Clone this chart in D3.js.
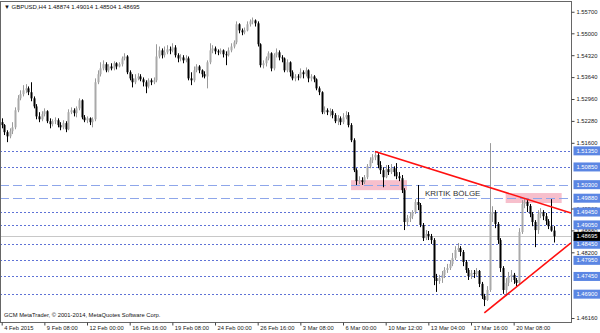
<!DOCTYPE html>
<html><head><meta charset="utf-8">
<script src="https://cdn.jsdelivr.net/npm/d3@7/dist/d3.min.js"></script>
<style>body{margin:0;background:#fff}svg{display:block}text{font-family:"Liberation Sans",Arial,sans-serif}</style>
</head><body><svg id="c" width="600" height="333"></svg>
<script>
const symbol = "GBPUSD,H4";
const lastOHLC = [1.48874, 1.49014, 1.48504, 1.48695];
const timeLabels = ["4 Feb 2015","9 Feb 08:00","12 Feb 00:00","16 Feb 16:00","19 Feb 08:00","24 Feb 00:00","26 Feb 16:00","3 Mar 08:00","6 Mar 00:00","10 Mar 12:00","13 Mar 04:00","17 Mar 16:00","20 Mar 08:00"];
const priceTicks = [1.4616,1.4820,1.4888,1.4956,1.5160,1.5228,1.5296,1.5364,1.5432,1.5500,1.5570];
const opens = [1.5224,
1.5215,1.5193,1.5180,1.5196,1.5208,1.5261,1.5298,1.5311,1.5323,1.5329,
1.5317,1.5298,1.5273,1.5242,1.5233,1.5249,1.5258,1.5227,1.5218,1.5227,
1.5230,1.5215,1.5208,1.5221,1.5202,1.5255,1.5261,1.5252,1.5267,1.5292,
1.5239,1.5230,1.5236,1.5224,1.5233,1.5348,1.5373,1.5391,1.5404,1.5385,
1.5397,1.5391,1.5407,1.5397,1.5404,1.5422,1.5428,1.5379,1.5360,1.5348,
1.5360,1.5366,1.5357,1.5348,1.5335,1.5354,1.5348,1.5354,1.5428,1.5447,
1.5432,1.5441,1.5450,1.5447,1.5456,1.5432,1.5422,1.5425,1.5416,1.5422,
1.5360,1.5354,1.5385,1.5397,1.5385,1.5373,1.5366,1.5410,1.5447,1.5453,
1.5444,1.5441,1.5447,1.5435,1.5432,1.5447,1.5459,1.5472,1.5528,1.5509,
1.5503,1.5509,1.5528,1.5537,1.5540,1.5531,1.5466,1.5401,1.5407,1.5422,
1.5438,1.5391,1.5432,1.5441,1.5425,1.5422,1.5385,1.5410,1.5379,1.5360,
1.5366,1.5363,1.5379,1.5373,1.5385,1.5360,1.5366,1.5357,1.5329,1.5317,
1.5255,1.5261,1.5255,1.5258,1.5246,1.5227,1.5236,1.5224,1.5239,1.5246,
1.5215,1.5168,1.5075,1.5041,1.5044,1.5038,1.5053,1.5087,1.5106,1.5115,
1.5122,1.5091,1.5075,1.5053,1.5078,1.5069,1.5081,1.5069,1.5056,1.5050,
1.5013,1.4914,1.4926,1.4932,1.4945,1.4976,1.4967,1.4905,1.4864,1.4877,
1.4870,1.4858,1.4740,1.4731,1.4740,1.4750,1.4765,1.4771,1.4784,1.4802,
1.4827,1.4833,1.4821,1.4790,1.4765,1.4746,1.4756,1.4753,1.4762,1.4722,
1.4684,1.4672,1.4703,1.4939,1.4945,1.4908,1.4858,1.4771,1.4703,1.4725,
1.4744,1.4750,1.4734,1.4725,1.4883,1.4970,1.4976,1.4964,1.4939,1.4914,
1.4889,1.4939,1.4945,1.4932,1.4917,1.4901,1.48874];
const closes = [
1.5215,1.5193,1.5180,1.5196,1.5208,1.5261,1.5298,1.5311,1.5323,1.5329,
1.5317,1.5298,1.5273,1.5242,1.5233,1.5249,1.5258,1.5227,1.5218,1.5227,
1.5230,1.5215,1.5208,1.5221,1.5202,1.5255,1.5261,1.5252,1.5267,1.5292,
1.5239,1.5230,1.5236,1.5224,1.5233,1.5348,1.5373,1.5391,1.5404,1.5385,
1.5397,1.5391,1.5407,1.5397,1.5404,1.5422,1.5428,1.5379,1.5360,1.5348,
1.5360,1.5366,1.5357,1.5348,1.5335,1.5354,1.5348,1.5354,1.5428,1.5447,
1.5432,1.5441,1.5450,1.5447,1.5456,1.5432,1.5422,1.5425,1.5416,1.5422,
1.5360,1.5354,1.5385,1.5397,1.5385,1.5373,1.5366,1.5410,1.5447,1.5453,
1.5444,1.5441,1.5447,1.5435,1.5432,1.5447,1.5459,1.5472,1.5528,1.5509,
1.5503,1.5509,1.5528,1.5537,1.5540,1.5531,1.5466,1.5401,1.5407,1.5422,
1.5438,1.5391,1.5432,1.5441,1.5425,1.5422,1.5385,1.5410,1.5379,1.5360,
1.5366,1.5363,1.5379,1.5373,1.5385,1.5360,1.5366,1.5357,1.5329,1.5317,
1.5255,1.5261,1.5255,1.5258,1.5246,1.5227,1.5236,1.5224,1.5239,1.5246,
1.5215,1.5168,1.5075,1.5041,1.5044,1.5038,1.5053,1.5087,1.5106,1.5115,
1.5122,1.5091,1.5075,1.5053,1.5078,1.5069,1.5081,1.5069,1.5056,1.5050,
1.5013,1.4914,1.4926,1.4932,1.4945,1.4976,1.4967,1.4905,1.4864,1.4877,
1.4870,1.4858,1.4740,1.4731,1.4740,1.4750,1.4765,1.4771,1.4784,1.4802,
1.4827,1.4833,1.4821,1.4790,1.4765,1.4746,1.4756,1.4753,1.4762,1.4722,
1.4684,1.4672,1.4703,1.4939,1.4945,1.4908,1.4858,1.4771,1.4703,1.4725,
1.4744,1.4750,1.4734,1.4725,1.4883,1.4970,1.4976,1.4964,1.4939,1.4914,
1.4889,1.4939,1.4945,1.4932,1.4917,1.4901,1.48874,1.48695];
const highs = [
1.5236,1.5218,1.5199,1.5205,1.5224,1.5270,1.5308,1.5323,1.5339,1.5342,
1.5335,1.5348,1.5304,1.5280,1.5255,1.5258,1.5267,1.5261,1.5236,1.5233,
1.5239,1.5236,1.5224,1.5230,1.5227,1.5264,1.5270,1.5267,1.5273,1.5298,
1.5295,1.5246,1.5242,1.5239,1.5239,1.5360,1.5385,1.5410,1.5416,1.5410,
1.5404,1.5407,1.5413,1.5410,1.5410,1.5428,1.5438,1.5432,1.5385,1.5373,
1.5373,1.5376,1.5373,1.5363,1.5354,1.5360,1.5360,1.5363,1.5466,1.5459,
1.5453,1.5459,1.5463,1.5459,1.5469,1.5463,1.5438,1.5435,1.5432,1.5432,
1.5428,1.5379,1.5397,1.5404,1.5401,1.5388,1.5382,1.5416,1.5469,1.5463,
1.5459,1.5450,1.5453,1.5450,1.5444,1.5456,1.5469,1.5478,1.5537,1.5531,
1.5515,1.5518,1.5537,1.5543,1.5549,1.5543,1.5537,1.5469,1.5416,1.5428,
1.5444,1.5441,1.5438,1.5453,1.5447,1.5432,1.5425,1.5419,1.5413,1.5385,
1.5373,1.5373,1.5391,1.5385,1.5394,1.5388,1.5373,1.5370,1.5360,1.5335,
1.5320,1.5273,1.5267,1.5267,1.5264,1.5252,1.5246,1.5242,1.5252,1.5258,
1.5255,1.5221,1.5174,1.5081,1.5056,1.5053,1.5060,1.5094,1.5115,1.5125,
1.5134,1.5128,1.5103,1.5084,1.5091,1.5091,1.5094,1.5087,1.5097,1.5069,
1.5060,1.5019,1.4936,1.4945,1.4951,1.4985,1.5029,1.4973,1.4911,1.4889,
1.4886,1.4877,1.4864,1.4753,1.4750,1.4762,1.4774,1.4784,1.4796,1.4818,
1.4839,1.4849,1.4839,1.4827,1.4796,1.4771,1.4765,1.4765,1.4771,1.4765,
1.4728,1.4691,1.4715,1.5159,1.4963,1.4951,1.4914,1.4864,1.4777,1.4740,
1.4759,1.4765,1.4756,1.4740,1.4895,1.4982,1.4988,1.4982,1.4970,1.4945,
1.4920,1.4951,1.4957,1.4951,1.4942,1.4923,1.4985,1.49014];
const lows = [
1.5205,1.5184,1.5162,1.5174,1.5187,1.5202,1.5255,1.5292,1.5304,1.5314,
1.5308,1.5289,1.5267,1.5233,1.5224,1.5227,1.5242,1.5221,1.5205,1.5211,
1.5218,1.5208,1.5199,1.5202,1.5193,1.5199,1.5249,1.5242,1.5239,1.5261,
1.5233,1.5224,1.5221,1.5215,1.5208,1.5227,1.5342,1.5366,1.5385,1.5379,
1.5379,1.5385,1.5385,1.5388,1.5394,1.5397,1.5416,1.5373,1.5354,1.5332,
1.5342,1.5354,1.5351,1.5335,1.5314,1.5329,1.5339,1.5342,1.5348,1.5422,
1.5422,1.5425,1.5435,1.5435,1.5441,1.5425,1.5410,1.5413,1.5407,1.5410,
1.5354,1.5339,1.5348,1.5379,1.5376,1.5363,1.5360,1.5329,1.5404,1.5438,
1.5435,1.5432,1.5435,1.5425,1.5401,1.5428,1.5441,1.5453,1.5466,1.5500,
1.5494,1.5497,1.5506,1.5521,1.5528,1.5521,1.5459,1.5394,1.5391,1.5397,
1.5416,1.5382,1.5385,1.5425,1.5416,1.5410,1.5379,1.5379,1.5366,1.5354,
1.5351,1.5354,1.5360,1.5360,1.5366,1.5348,1.5351,1.5348,1.5323,1.5308,
1.5249,1.5249,1.5246,1.5242,1.5236,1.5221,1.5215,1.5215,1.5218,1.5233,
1.5208,1.5162,1.5069,1.5029,1.5032,1.5029,1.5032,1.5047,1.5081,1.5097,
1.5106,1.5081,1.5063,1.5022,1.5050,1.5060,1.5063,1.5056,1.5047,1.5041,
1.5004,1.4889,1.4901,1.4914,1.4923,1.4939,1.4951,1.4898,1.4855,1.4858,
1.4858,1.4846,1.4718,1.4697,1.4722,1.4725,1.4740,1.4756,1.4765,1.4777,
1.4796,1.4821,1.4808,1.4777,1.4756,1.4734,1.4737,1.4740,1.4746,1.4712,
1.4675,1.4653,1.4669,1.4697,1.4914,1.4895,1.4846,1.4759,1.4691,1.4684,
1.4715,1.4728,1.4722,1.4715,1.4718,1.4877,1.4957,1.4945,1.4929,1.4901,
1.4836,1.4877,1.4926,1.4920,1.4905,1.4892,1.4884,1.48504];
const dottedLevels = [1.5135,1.5085,1.4945,1.4905,1.4845,1.4795,1.4745,1.4690];
const dashedLevels = [1.5030,1.4988];
const zones = [[131,152,1.5044,1.5013],[189,210,1.5004,1.4973]];
const zoneLabel = "KRITIK BÖLGE";
const trendLines = [[[140,1.5133],[190,1.5003]],[[181,1.4632],[207,1.4806]]];

const svg = d3.select("#c");
const xR = 571.5, yB = 322.5;
const x = d3.scaleLinear().domain([0,213.5]).range([1.7,571]);
const y = d3.scaleLinear().domain([1.4616,1.5500]).range([318,33.3]);
const data = closes.map((c,i)=>({i,o:opens[i],h:highs[i],l:lows[i],c}));

svg.append("defs").append("clipPath").attr("id","pc").append("rect").attr("x",0).attr("y",2).attr("width",xR).attr("height",yB-2);
const plot = svg.append("g").attr("clip-path","url(#pc)");

plot.selectAll("rect.z").data(zones).join("rect")
  .attr("x",d=>x(d[0])).attr("width",d=>x(d[1])-x(d[0]))
  .attr("y",d=>y(d[2])).attr("height",d=>y(d[3])-y(d[2]))
  .attr("fill","#f7bfcc");
plot.selectAll("line.dot").data(dottedLevels).join("line")
  .attr("x1",0).attr("x2",xR).attr("y1",d=>Math.round(y(d))+0.5).attr("y2",d=>Math.round(y(d))+0.5)
  .attr("stroke","#5f72d6").attr("stroke-width",1).attr("stroke-dasharray","2,2");
plot.selectAll("line.dash").data(dashedLevels).join("line")
  .attr("x1",0).attr("x2",xR).attr("y1",d=>Math.round(y(d))+0.5).attr("y2",d=>Math.round(y(d))+0.5)
  .attr("stroke","#8ea6ea").attr("stroke-width",1).attr("stroke-dasharray","9,4");
plot.append("line").attr("x1",0).attr("x2",xR)
  .attr("y1",Math.round(y(lastOHLC[3]))+0.5).attr("y2",Math.round(y(lastOHLC[3]))+0.5)
  .attr("stroke","#c8c8c8");

const g = plot.append("g");
g.selectAll("line.w").data(data).join("line")
  .attr("x1",d=>Math.round(x(d.i))+0.5).attr("x2",d=>Math.round(x(d.i))+0.5)
  .attr("y1",d=>y(d.h)).attr("y2",d=>y(d.l))
  .attr("stroke",d=>d.c>=d.o?"#9a9a9a":"#000").attr("stroke-width",1);
g.selectAll("rect.b").data(data).join("rect")
  .attr("x",d=>Math.round(x(d.i))-0.5).attr("width",2)
  .attr("y",d=>y(Math.max(d.o,d.c))).attr("height",d=>Math.max(1,Math.abs(y(d.o)-y(d.c))))
  .attr("fill",d=>d.c>=d.o?"#a9a9a9":"#000");

plot.append("text").attr("x",x(158.7)).attr("y",y(1.5004)+3)
  .attr("font-size",8).attr("fill","#333").text(zoneLabel);

trendLines.forEach(([a,b])=>{
  const s=(b[1]-a[1])/(b[0]-a[0]);
  const xe=213.5;
  plot.append("line").attr("x1",x(a[0])).attr("y1",y(a[1]))
    .attr("x2",x(xe)).attr("y2",y(a[1]+s*(xe-a[0])))
    .attr("stroke","#ff1010").attr("stroke-width",1.6);
});

svg.append("rect").attr("x",0.5).attr("y",1.5).attr("width",xR-0.5).attr("height",yB-1.5)
  .attr("fill","none").attr("stroke","#666");

const ya = d3.axisRight(y).tickValues(priceTicks).tickFormat(d3.format(".5f")).tickSize(3).tickPadding(2);
const yg = svg.append("g").attr("transform",`translate(${xR},0)`).call(ya);
yg.select(".domain").remove();
yg.selectAll(".tick line").attr("stroke","#444");
yg.selectAll(".tick text").attr("font-size",5.8).attr("fill","#222").attr("font-family",null);
yg.selectAll(".tick").filter(d=>d===1.5570).attr("transform",`translate(0,${y(1.5570)+1.5})`);

const xa = d3.axisBottom(x).tickValues(d3.range(timeLabels.length).map(k=>k*16))
  .tickFormat((d,k)=>timeLabels[k]).tickSize(3);
const xg = svg.append("g").attr("transform",`translate(0,${yB})`).call(xa);
xg.select(".domain").remove();
xg.selectAll(".tick line").attr("stroke","#444");
xg.selectAll(".tick text").attr("font-size",5.8).attr("fill","#222").attr("text-anchor","start")
  .attr("x",2).attr("y",3).attr("dy","0.71em").attr("font-family",null);

function label(p, bg){
  const yy=y(p);
  svg.append("rect").attr("x",xR+2).attr("y",yy-4.5).attr("width",27).attr("height",9).attr("fill",bg);
  svg.append("text").attr("x",xR+5).attr("y",yy+2).attr("font-size",5.8).attr("fill","#fff").text(d3.format(".5f")(p));
}
dottedLevels.concat(dashedLevels).forEach(p=>label(p,"#5b86e3"));
label(lastOHLC[3],"#000");

svg.append("text").attr("x",4).attr("y",9).attr("font-size",6).attr("fill","#111")
  .text("\u25BC " + symbol + "  " + lastOHLC.map(d3.format(".5f")).join(" "));
svg.append("text").attr("x",4).attr("y",317).attr("font-size",5.8).attr("fill","#111")
  .text("GCM MetaTrader, \u00A9 2001-2014, MetaQuotes Software Corp.");
</script></body></html>
